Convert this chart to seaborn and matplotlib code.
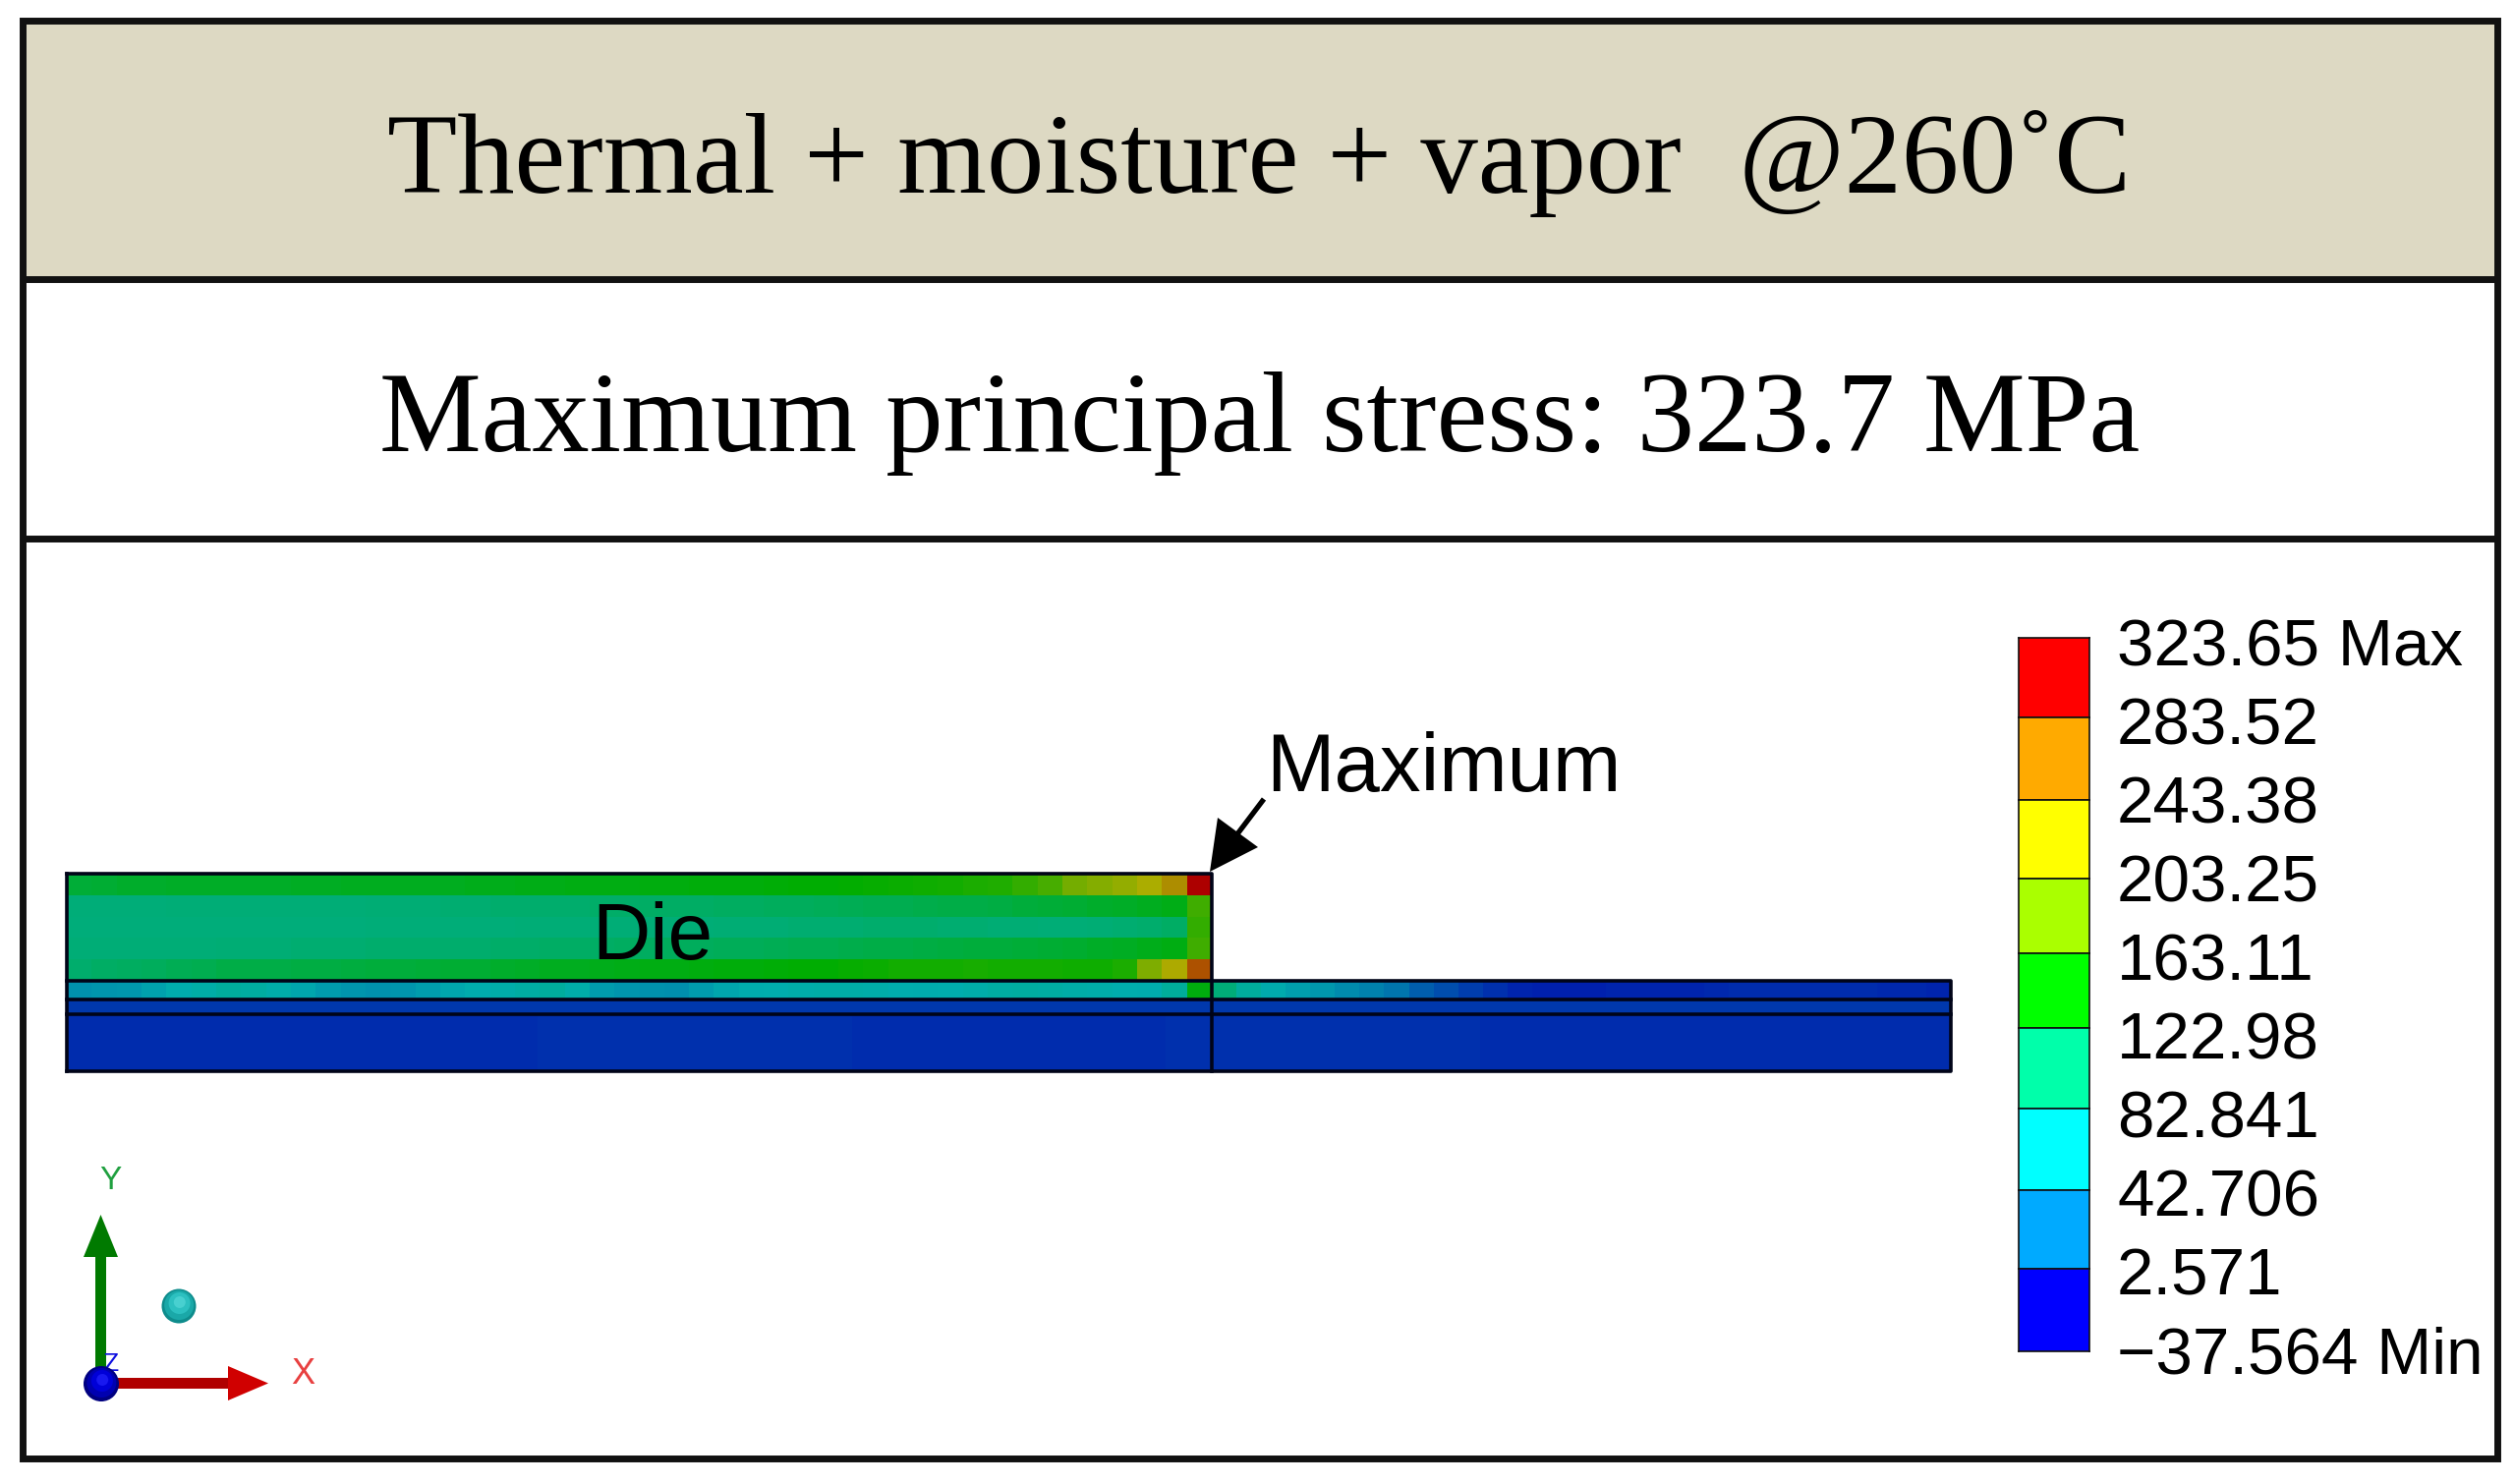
import matplotlib
matplotlib.use("Agg")
import numpy as np
import pandas as pd
import seaborn as sns
import matplotlib.pyplot as plt
from matplotlib.colors import LinearSegmentedColormap, ListedColormap, BoundaryNorm
from matplotlib.patches import Rectangle, Polygon, Circle

# ---------- text ----------
TITLE = "Thermal + moisture + vapor  @260\u02daC"
SUBTITLE = "Maximum principal stress: 323.7 MPa"
LEGEND_LABELS = ["323.65 Max", "283.52", "243.38", "203.25", "163.11",
                 "122.98", "82.841", "42.706", "2.571", "\u221237.564 Min"]
# ---------- legend ----------
LEGEND_LEVELS = [323.65, 283.52, 243.38, 203.25, 163.11, 122.98, 82.841, 42.706, 2.571, -37.564]
BAND_COLORS = ["#FF0000", "#FFAA00", "#FFFF00", "#AAFF00", "#00FF00",
               "#00FFAA", "#00FFFF", "#00AAFF", "#0000FF"]
# ---------- stress (MPa) ----------
DIE_ROW_1 = [124,126,128,128,129,129,130,130,130,131,
             131,132,132,132,133,133,134,134,135,135,
             136,136,137,138,138,139,140,140,141,142,
             143,144,145,146,148,150,152,154,160,168,
             183,195,205,222,245,303]
DIE_ROW_2 = [100,100,100,100,101,101,101,101,102,102,
             102,102,103,103,103,104,104,105,105,106,
             106,107,107,108,108,109,110,110,111,112,
             113,114,115,116,117,118,119,120,122,124,
             126,128,130,133,135,165]
DIE_ROW_3 = [98,98,98,98,98,98,99,99,99,99,
             99,99,100,100,100,100,100,100,101,101,
             101,101,102,102,102,102,103,103,103,104,
             104,104,105,105,105,104,104,103,103,102,
             102,103,104,106,108,160]
DIE_ROW_4 = [102,102,102,102,102,102,103,103,103,104,
             104,104,105,105,105,106,106,107,107,108,
             108,109,110,110,111,112,113,113,114,115,
             116,117,118,119,120,121,122,123,124,125,
             127,129,131,134,137,165]
DIE_ROW_5 = [106,108,110,112,114,116,118,118,119,120,
             120,121,122,123,124,125,126,128,130,132,
             133,134,135,136,137,138,139,140,141,143,
             143,145,147,150,150,150,151,150,150,149,
             148,148,152,190,225,275]
ADHESIVE_LEFT = [44,46,48,55,62,68,74,72,66,58,
                 50,46,44,46,52,58,62,66,70,74,
                 66,50,46,44,42,50,58,62,64,66,
                 67,68,66,64,62,64,66,70,72,70,
                 68,66,64,62,76,138]
ADHESIVE_RIGHT = [100,74,60,54,48,40,32,24,16,10,
                  4,0,-4,-6,-6,-6,-5,-5,-4,-4,
                  -3,-2,-2,-2,-2,-1,-2,-3,-3,-4]
LAYER_2 = [2, 2, 3, 3, 2, 2, 3, 2, 2, 3, 3, 2]
LAYER_3 = [-1, -1, -1, 0, 0, -1, -1, 0, 0, -1, -1, -1]

FIG_W, FIG_H = 2558, 1510
sns.set_theme(style="white")
plt.rcParams["font.family"] = ["Liberation Sans", "DejaVu Sans"]
fig = plt.figure(figsize=(FIG_W / 100, FIG_H / 100), dpi=100, facecolor="white")


def px_axes(x0, y0, x1, y1, z=1):
    return fig.add_axes([x0 / FIG_W, 1 - y1 / FIG_H, (x1 - x0) / FIG_W, (y1 - y0) / FIG_H], zorder=z)


# model colours: the legend bands, interpolated and dimmed by the viewport lighting
vmin, vmax = -37.564, 323.65
centers = [-37.564, -17.5, 22.6, 62.8, 102.9, 143.0, 183.2, 223.3, 263.4, 303.6, 323.65]
stops = ["#0000FF", "#0000FF", "#00AAFF", "#00FFFF", "#00FFAA", "#00FF00",
         "#AAFF00", "#FFFF00", "#FFAA00", "#FF0000", "#FF0000"]
rgb = np.array([matplotlib.colors.to_rgb(c) for c in stops]) * 0.68
model_cmap = LinearSegmentedColormap.from_list(
    "model", [((c - vmin) / (vmax - vmin), tuple(v)) for c, v in zip(centers, rgb)])


def layer(rows, x0, y0, x1, y1):
    ax = px_axes(x0, y0, x1, y1)
    sns.heatmap(pd.DataFrame(rows), ax=ax, cmap=model_cmap, vmin=vmin, vmax=vmax,
                cbar=False, xticklabels=False, yticklabels=False)
    ax.set_xlabel("")
    ax.set_ylabel("")


X_L, X_M, X_R = 68, 1233, 1985
Y_DIE_T, Y_DIE_B, Y_A, Y_B, Y_BOT = 889, 998, 1017, 1032, 1090
layer([DIE_ROW_1, DIE_ROW_2, DIE_ROW_3, DIE_ROW_4, DIE_ROW_5], X_L, Y_DIE_T, X_M, Y_DIE_B)
layer([ADHESIVE_LEFT], X_L, Y_DIE_B, X_M, Y_A)
layer([ADHESIVE_RIGHT], X_M, Y_DIE_B, X_R, Y_A)
layer([LAYER_2], X_L, Y_A, X_R, Y_B)
layer([LAYER_3], X_L, Y_B, X_R, Y_BOT)

# legend colour bar: one heatmap cell per band, band edges as measured
band_edges_px = [649, 730, 814, 894, 970, 1046, 1128, 1211, 1291, 1375]
cmap_bands = ListedColormap(BAND_COLORS[::-1])
norm_bands = BoundaryNorm(LEGEND_LEVELS[::-1], 9)
for i in range(9):
    cax = px_axes(2054, band_edges_px[i], 2126, band_edges_px[i + 1])
    mid = (LEGEND_LEVELS[i] + LEGEND_LEVELS[i + 1]) / 2
    sns.heatmap(pd.DataFrame([[mid]]), ax=cax, cbar=False, xticklabels=False, yticklabels=False,
                cmap=cmap_bands, norm=norm_bands)
    cax.set_xlabel("")
    cax.set_ylabel("")
    for s in cax.spines.values():
        s.set_visible(True)
        s.set_color("#101010")
        s.set_linewidth(1.2)

# overlay in pixel coordinates
ov = px_axes(0, 0, FIG_W, FIG_H, z=5)
ov.set_xlim(0, FIG_W)
ov.set_ylim(FIG_H, 0)
ov.axis("off")
ov.patch.set_alpha(0)

# table frame
ov.add_patch(Rectangle((23, 21), 2518, 263, fc="#DDD9C3", ec="none", zorder=1))
ov.add_patch(Rectangle((23, 21), 2518, 1463, fc="none", ec="#111111", lw=5, zorder=3))
for y in (284, 548):
    ov.plot([23, 2541], [y, y], color="#111111", lw=5, solid_capstyle="butt", zorder=3)
ov.text(1281, 196, TITLE, family=["Liberation Serif", "DejaVu Serif"], fontsize=84,
        ha="center", va="baseline", color="black", zorder=4)
ov.text(1282, 459, SUBTITLE, family=["Liberation Serif", "DejaVu Serif"], fontsize=84,
        ha="center", va="baseline", color="black", zorder=4)

# model outlines
edge = "#000418"
kw = dict(color=edge, lw=2.6, solid_capstyle="projecting", zorder=3)
ov.plot([X_L, X_M, X_M], [Y_DIE_T, Y_DIE_T, Y_BOT], **kw)
ov.plot([X_L, X_L], [Y_DIE_T, Y_BOT], **kw)
ov.plot([X_L, X_R, X_R, X_L], [Y_DIE_B, Y_DIE_B, Y_BOT, Y_BOT], **kw)
ov.plot([X_L, X_R], [Y_A, Y_A], **kw)
ov.plot([X_L, X_R], [Y_B, Y_B], **kw)
ov.text(602, 976, "Die", fontsize=59, ha="left", va="baseline", color="black", zorder=4)

# Maximum callout
ov.text(1288, 805, "Maximum", fontsize=60, ha="left", va="baseline", color="black", zorder=4)
ov.plot([1286, 1258], [813, 850], color="black", lw=3.8, solid_capstyle="butt", zorder=4)
ov.add_patch(Polygon([(1231, 887), (1239, 832), (1280, 862)], fc="black", ec="none", zorder=4))

# legend labels
for i, lab in enumerate(LEGEND_LABELS):
    ov.text(2154, 678 + 79.9 * i, lab, fontsize=48.5, ha="left", va="baseline", color="black", zorder=4)

# orientation triad
green, red = "#007A00", "#C00000"
ov.add_patch(Rectangle((97, 1279), 11, 125, fc=green, ec="none", zorder=2))
ov.add_patch(Polygon([(102.5, 1236), (85, 1279), (120, 1279)], fc=green, ec="none", zorder=2))
ov.add_patch(Rectangle((110, 1402), 124, 11, fc="#B00000", ec="none", zorder=2))
ov.add_patch(Polygon([(273, 1407.5), (232, 1390), (232, 1425)], fc="#D00000", ec="none", zorder=2))
ov.text(112, 1202, "Y", fontsize=24, color="#20A040", ha="center", va="center", zorder=2, fontweight="light")
ov.text(308, 1399, "X", fontsize=26, color="#E84040", ha="center", va="center", zorder=2)
ov.text(112, 1388, "Z", fontsize=19, color="#1010E0", ha="center", va="center", zorder=2)
for r, col, dy in ((18, "#000080", 0), (15, "#0000B0", -1), (11, "#0000D8", -3), (6, "#1818F0", -4)):
    ov.add_patch(Circle((103 - dy * 0.3, 1408 + dy), r, fc=col, ec="none", zorder=3))
for r, col, dy in ((17.5, "#0E8C8C", 0), (15, "#1AA8A8", -1), (11, "#2CC0C0", -3), (6, "#48D0D0", -4)):
    ov.add_patch(Circle((182 - dy * 0.2, 1329 + dy), r, fc=col, ec="none", zorder=3))

fig.savefig("out.png", dpi=100, facecolor="white")
